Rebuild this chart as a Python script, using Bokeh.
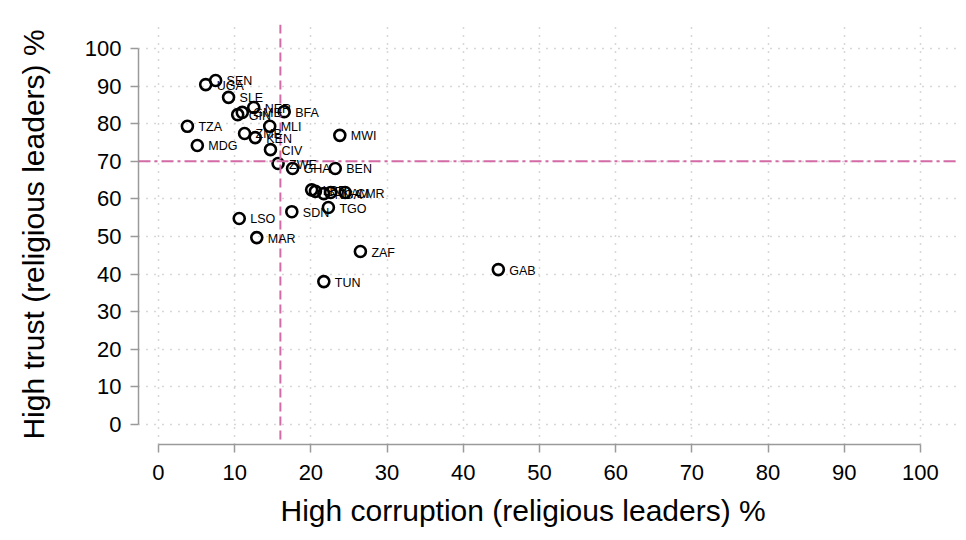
from bokeh.plotting import figure
from bokeh.models import Span, FixedTicker, ColumnDataSource, LabelSet, Title
from bokeh.core.properties import value
from bokeh.embed import file_html
from bokeh.resources import INLINE

countries = ["SEN", "UGA", "SLE", "NER", "BFA", "GMB", "GIN", "TZA", "MDG", "ZMB",
             "KEN", "MLI", "CIV", "ZWE", "GHA", "BEN", "MWI", "LBR", "BDI", "NGA",
             "NAM", "CMR", "SDN", "TGO", "LSO", "MAR", "ZAF", "TUN", "GAB"]
corruption = [7.5, 6.2, 9.2, 12.5, 16.5, 11.0, 10.4, 3.8, 5.1, 11.3,
              12.7, 14.6, 14.7, 15.7, 17.6, 23.2, 23.8, 20.1, 20.6, 21.7,
              22.6, 24.5, 17.5, 22.3, 10.6, 12.9, 26.5, 21.7, 44.6]
trust = [91.5, 90.4, 87.0, 84.3, 83.2, 83.0, 82.4, 79.3, 74.2, 77.4,
         76.3, 79.3, 73.1, 69.4, 68.1, 68.1, 76.9, 62.4, 62.0, 61.4,
         61.7, 61.7, 56.6, 57.7, 54.8, 49.7, 46.0, 38.0, 41.2]
ticks = [0, 10, 20, 30, 40, 50, 60, 70, 80, 90, 100]
corruption_ref = 16
trust_ref = 70
x_title = "High corruption (religious leaders) %"
y_title = "High trust (religious leaders) %"

src = ColumnDataSource(dict(x=corruption, y=trust, lab=countries))

p = figure(width=966, height=540, output_backend="svg", toolbar_location=None,
           x_range=(-2.62, 104.99), y_range=(-5.32, 106.38),
           min_border_left=138, min_border_right=8, min_border_top=24,
           min_border_bottom=96)
p.outline_line_color = None
p.background_fill_color = "white"

for ax in (p.xaxis[0], p.yaxis[0]):
    ax.ticker = FixedTicker(ticks=ticks)
    ax.bounds = (0, 100)
    ax.axis_label_text_font = "Liberation Sans"
    ax.axis_label_text_font_size = "30px"
    ax.axis_label_text_font_style = "normal"
    ax.axis_label_text_color = "black"
    ax.major_label_text_font = "Liberation Sans"
    ax.major_label_text_font_size = "22px"
    ax.major_label_text_color = "black"
    ax.axis_line_color = "#9a9a9a"
    ax.axis_line_width = 1.5
    ax.major_tick_line_color = "#9a9a9a"
    ax.major_tick_line_width = 1.5
    ax.major_tick_in = 0
    ax.major_tick_out = 8
    ax.minor_tick_line_color = None
    ax.major_label_standoff = 9

p.xaxis.major_label_standoff = 12
p.yaxis.axis_label = y_title
p.yaxis.axis_label_standoff = 32

p.add_layout(Title(text=x_title, align="left", offset=142, standoff=19,
                   text_font="Liberation Sans", text_font_size="30px",
                   text_font_style="normal", text_color="black"), "below")

for g in (p.xgrid[0], p.ygrid[0]):
    g.ticker = FixedTicker(ticks=ticks)
    g.grid_line_color = "#b0b0b0"
    g.grid_line_width = 1.5
    g.grid_line_dash = "1 7"

p.add_layout(Span(location=corruption_ref, dimension="height", line_color="#d36ba6",
                  line_width=2, line_dash="9 5"))
p.add_layout(Span(location=trust_ref, dimension="width", line_color="#d36ba6",
                  line_width=2, line_dash="12 4 3 4"))

p.scatter("x", "y", source=src, size=11, marker="circle", fill_alpha=0,
          line_color="black", line_width=2.6)

p.add_layout(LabelSet(x="x", y="y", text="lab", source=src, x_offset=11, y_offset=-1,
                      text_font=value("Liberation Sans"), text_font_size="12.5px",
                      text_color="black", text_baseline="middle"))

open("out.html", "w").write(file_html(p, INLINE))
